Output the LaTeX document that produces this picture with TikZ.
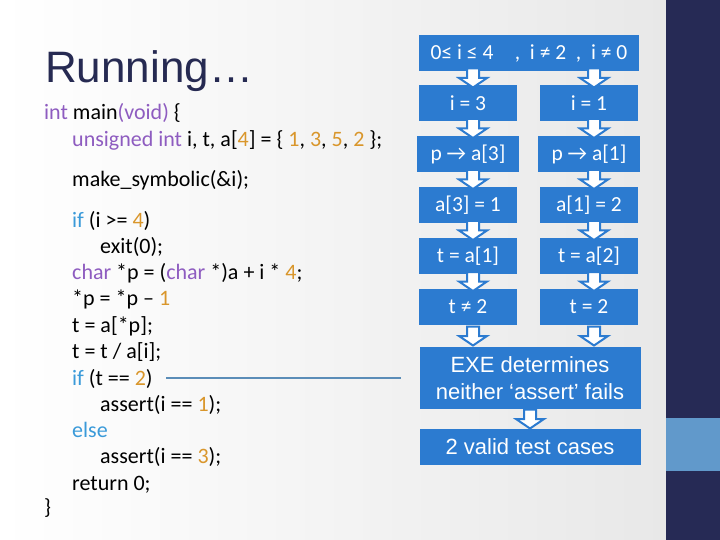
\documentclass[tikz,border=0pt]{standalone}
\usepackage{fontspec}
\setmainfont{Carlito}
\newfontfamily\arialfont{Liberation Sans}
\usetikzlibrary{calc}

\definecolor{navy}{HTML}{262A55}
\definecolor{bandblue}{HTML}{6199CB}
\definecolor{boxblue}{HTML}{2C7BD0}
\definecolor{linkblue}{HTML}{5B8DB8}
\definecolor{kwpurple}{HTML}{8E5CC0}
\definecolor{kwblue}{HTML}{3A9AD9}
\definecolor{numorange}{HTML}{D9962B}
\definecolor{titlenavy}{HTML}{262A52}

\newcommand{\kw}[1]{\textcolor{kwpurple}{#1}}
\newcommand{\ctl}[1]{\textcolor{kwblue}{#1}}
\newcommand{\cnum}[1]{\textcolor{numorange}{#1}}

\begin{document}
\begin{tikzpicture}[
    x=1pt, y=-1pt,
    box/.style={fill=boxblue, text=white, minimum width=98pt, minimum height=36pt,
                inner sep=2pt, font=\fontsize{21.5}{26}\selectfont},
    wbox/.style={box, minimum width=221pt, font=\arialfont\fontsize{22}{27}\selectfont, align=center},
    codeln/.style={anchor=base west, inner sep=0pt, font=\fontsize{22}{26}\selectfont},
    ttl/.style={anchor=base west, inner sep=0pt, text=titlenavy, font=\arialfont\fontsize{44}{50}\selectfont},
    link/.style={draw=linkblue, line width=1.5pt},
    pics/downarr/.style={code={
      \draw[fill=white, draw=boxblue, line width=2pt, line join=miter]
        (-6,-9.5) -- (6,-9.5) -- (6,0) -- (14,0) -- (0,9.5) -- (-14,0) -- (-6,0) -- cycle;}}
  ]
  \useasboundingbox (0,0) rectangle (720,540);

  % background and side bar
  \shade[left color=white, right color=black!9] (0,0) rectangle (666,540);
  \fill[navy] (666,0) rectangle (720,540);
  \fill[bandblue] (666,418) rectangle (720,471);

  % title and code
  \node[ttl] (title) at (45,83) {Running…};
  \node[codeln] (c1)  at ( 44,120) {\kw{int} main\kw{(void)} \{};
  \node[codeln] (c2)  at ( 72,147) {\kw{unsigned int} i, t, a[\cnum{4}] = \{ \cnum{1}, \cnum{3}, \cnum{5}, \cnum{2} \};};
  \node[codeln] (c3)  at ( 72,187) {make\_symbolic(\&i);};
  \node[codeln] (c4)  at ( 72,227) {\ctl{if} (i >= \cnum{4})};
  \node[codeln] (c5)  at (100,253) {exit(0);};
  \node[codeln] (c6)  at ( 72,279) {\kw{char} *p = (\kw{char} *)a + i * \cnum{4};};
  \node[codeln] (c7)  at ( 72,305) {*p = *p – \cnum{1}};
  \node[codeln] (c8)  at ( 72,332) {t = a[*p];};
  \node[codeln] (c9)  at ( 72,358) {t = t / a[i];};
  \node[codeln] (c10) at ( 72,385) {\ctl{if} (t == \cnum{2})};
  \node[codeln] (c11) at (100,411) {assert(i == \cnum{1});};
  \node[codeln] (c12) at ( 72,437) {\ctl{else}};
  \node[codeln] (c13) at (100,463) {assert(i == \cnum{3});};
  \node[codeln] (c14) at ( 72,490) {return 0;};
  \node[codeln] (c15) at ( 44,514) {\}};

  \coordinate (lnA) at (166,378);
  \coordinate (lnB) at (401,378);
  \draw[link] (lnA) -- (lnB);

  % flow boxes
  \node[box, minimum width=220pt] (top) at (529,53) {0≤ i ≤ 4\hspace{1em}, \ i ≠ 2 \ , \ i ≠ 0};
  \node[box] (l1) at (468,103) {i = 3};
  \node[box] (r1) at (589,103) {i = 1};
  \node[box, minimum width=102pt] (l2) at (468,154) {p → a[3]};
  \node[box, minimum width=102pt] (r2) at (589,154) {p → a[1]};
  \node[box] (l3) at (468,205) {a[3] = 1};
  \node[box] (r3) at (589,205) {a[1] = 2};
  \node[box] (l4) at (468,256) {t = a[1]};
  \node[box] (r4) at (589,256) {t = a[2]};
  \node[box] (l5) at (468,307) {t ≠ 2};
  \node[box] (r5) at (589,307) {t = 2};
  \node[wbox, minimum height=62pt] (exe) at (530,378) {EXE determines\\neither ‘assert’ fails};
  \node[wbox] (valid) at (530,447) {2 valid test cases};

  % block arrows
  \pic at ($(top.south -| l1)!0.5!(l1.north)+(5,0)$) {downarr};
  \pic at ($(top.south -| r1)!0.5!(r1.north)+(5,0)$) {downarr};
  \pic at ($(l1.south)!0.5!(l2.north)+(5,0)$) {downarr};
  \pic at ($(r1.south)!0.5!(r2.north)+(5,0)$) {downarr};
  \pic at ($(l2.south)!0.5!(l3.north)+(5,0)$) {downarr};
  \pic at ($(r2.south)!0.5!(r3.north)+(5,0)$) {downarr};
  \pic at ($(l3.south)!0.5!(l4.north)+(5,0)$) {downarr};
  \pic at ($(r3.south)!0.5!(r4.north)+(5,0)$) {downarr};
  \pic at ($(l4.south)!0.5!(l5.north)+(5,0)$) {downarr};
  \pic at ($(r4.south)!0.5!(r5.north)+(5,0)$) {downarr};
  \pic at ($(l5.south)!0.5!(l5.south |- exe.north)+(5,0)$) {downarr};
  \pic at ($(r5.south)!0.5!(r5.south |- exe.north)+(5,0)$) {downarr};
  \pic at ($(exe.south)!0.5!(valid.north)$) {downarr};
\end{tikzpicture}
\end{document}
